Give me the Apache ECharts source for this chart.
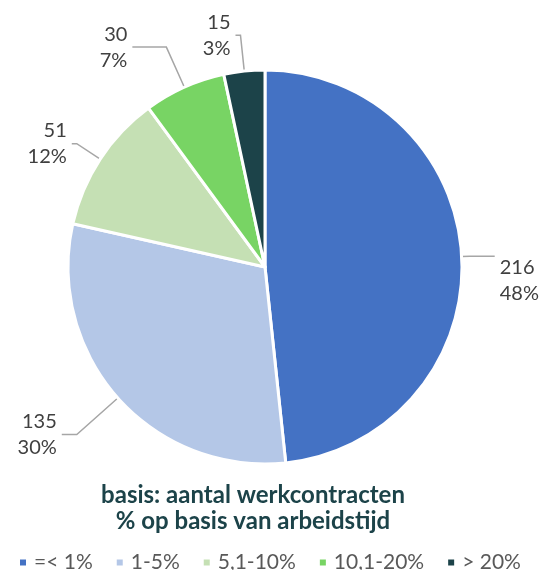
<!DOCTYPE html>
<html>
<head>
<meta charset="utf-8">
<script src="https://cdn.jsdelivr.net/npm/echarts@6/dist/echarts.min.js"></script>
<style>
    html, body { margin: 0; padding: 0; background: #fff; }
    #main { width: 548px; height: 570px; }
</style>
</head>
<body>
<div id="main"></div>
<script>
// categorieen en aantallen
var categories = ['=< 1%', '1-5%', '5,1-10%', '10,1-20%', '> 20%'];
var counts = [216, 135, 51, 30, 15];
var colors = ['#4472C4', '#B4C7E7', '#C5E0B4', '#78D464', '#1C4349'];
var titleLines = ['basis: aantal werkcontracten', '% op basis van arbeidstijd'];
// lengte van de verbindingslijnen per label (eerste en tweede stuk)
var lineLen1 = [8, 55, 28, 44, 36];
var lineLen2 = [25, 15, 5, 34, 5];

var myChart = echarts.init(document.getElementById('main'));

var pieData = [];
for (var i = 0; i < categories.length; i++) {
    pieData.push({
        name: categories[i],
        value: counts[i],
        labelLine: { length: lineLen1[i], length2: lineLen2[i] }
    });
}

var option = {
    color: colors,
    textStyle: { fontFamily: 'Lato' },
    // titel onder de taart (left = midden van de tekst)
    title: {
        text: titleLines.join('\n'),
        left: 248,
        top: 477,
        textAlign: 'center',
        textStyle: {
            fontFamily: 'Lato',
            fontSize: 24,
            fontWeight: 'bold',
            color: '#1C4349',
            lineHeight: 26
        }
    },
    legend: {
        top: 547,
        left: 13,
        // vierkantje met wat ruimte ervoor en erna
        icon: 'path://M0,0h8v8h-8z',
        itemWidth: 12,
        itemHeight: 8,
        itemGap: 22,
        textStyle: { fontFamily: 'Lato', fontSize: 21, color: '#595959' },
        data: categories
    },
    series: [{
        type: 'pie',
        center: [265, 267],
        radius: 197,
        startAngle: 90,
        clockwise: true,
        percentPrecision: 0,
        avoidLabelOverlap: false,
        animation: false,
        itemStyle: { borderColor: '#fff', borderWidth: 3 },
        label: {
            show: true,
            formatter: '{c}\n{d}%',
            fontFamily: 'Lato',
            fontSize: 20,
            lineHeight: 26,
            color: '#404040'
        },
        labelLine: {
            show: true,
            lineStyle: { color: '#A6A6A6', width: 1.5 }
        },
        // label van de grootste schijf iets lager, zoals in het origineel
        labelLayout: function (params) {
            if (params.dataIndex === 0) {
                return { dy: 24 };
            }
        },
        data: pieData
    }]
};
myChart.setOption(option);
</script>
</body>
</html>
